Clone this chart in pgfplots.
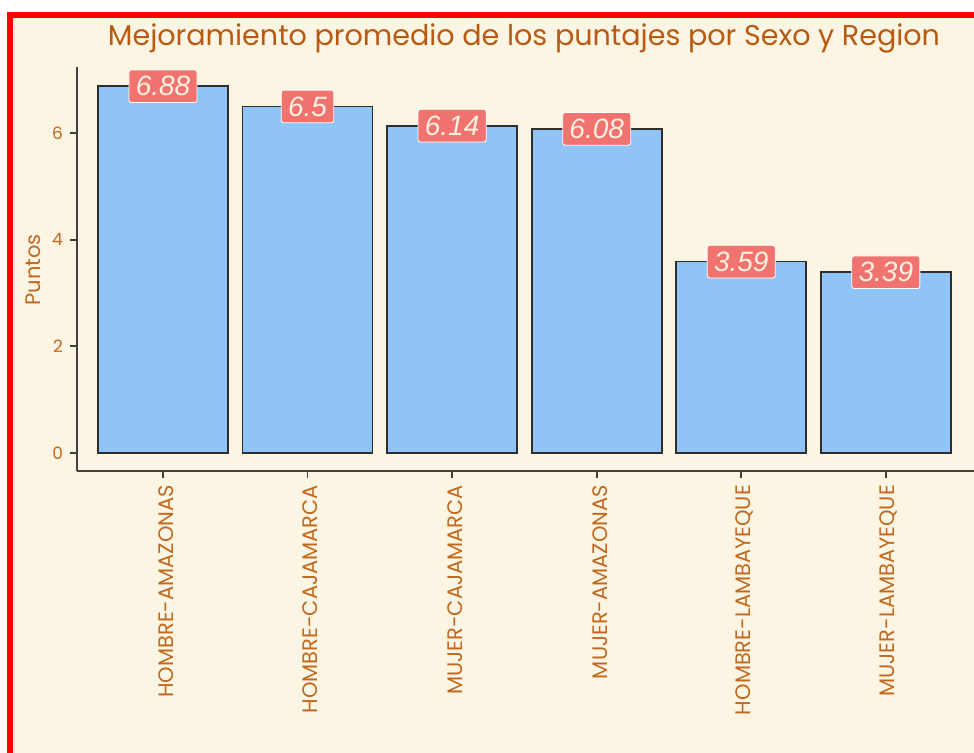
\documentclass[border=0pt]{standalone}
\usepackage{fontspec}
\setmainfont{Poppins}
\newfontfamily\numfont{Liberation Sans}
\usepackage{pgfplots}
\pgfplotsset{compat=1.18}

\definecolor{bgcream}{HTML}{FDF5E3}
\definecolor{borderred}{HTML}{FF0000}
\definecolor{barblue}{HTML}{90C4F6}
\definecolor{baredge}{HTML}{2E2E2E}
\definecolor{spine}{HTML}{404040}
\definecolor{labelbrown}{HTML}{C0681E}
\definecolor{titlebrown}{HTML}{B85A12}
\definecolor{boxsalmon}{HTML}{F07370}
\definecolor{boxtext}{HTML}{FFF1E0}

\begin{document}
\begin{tikzpicture}
\useasboundingbox (0,0) rectangle (487pt,376.5pt);
\fill[white] (0,0) rectangle (487pt,376.5pt);
\fill[borderred] (3.5pt,0) rectangle (487pt,370.5pt);
\fill[bgcream] (6.5pt,0) rectangle (487pt,367.5pt);

\begin{axis}[
  at={(38.5pt,141pt)}, anchor=south west,
  scale only axis, width=448.5pt, height=202pt,
  xmin=-0.595, xmax=5.61, ymin=-0.3375, ymax=7.24,
  ybar, bar width=65pt,
  axis x line*=bottom, axis y line*=left,
  axis line style={draw=spine, line width=1pt},
  tick align=outside, major tick length=3.5pt,
  every tick/.style={draw=spine, line width=0.9pt},
  xtick={0,...,5},
  xticklabels={HOMBRE-AMAZONAS,HOMBRE-CAJAMARCA,MUJER-CAJAMARCA,MUJER-AMAZONAS,HOMBRE-LAMBAYEQUE,MUJER-LAMBAYEQUE},
  xticklabel style={rotate=90, anchor=east, yshift=-1.5pt, font=\fontsize{10.5}{12}\selectfont, text=labelbrown},
  ytick={0,2,4,6},
  yticklabel style={font=\fontsize{8.5}{10}\selectfont, text=labelbrown},
  /pgf/number format/assume math mode=true,
  nodes near coords, point meta=explicit symbolic,
  every node near coord/.append style={anchor=center,
    font=\numfont\itshape\fontsize{14}{16}\selectfont,
    fill=boxsalmon, draw=white, line width=0.4pt, rounded corners=1.2pt,
    text=boxtext, inner xsep=3.4pt, inner ysep=3.2pt},
]
\addplot[fill=barblue, draw=baredge, line width=0.9pt] coordinates {
  (0,6.88) [6.88]
  (1,6.5)  [6.5]
  (2,6.14) [6.14]
  (3,6.08) [6.08]
  (4,3.59) [3.59]
  (5,3.39) [3.39]
};
\end{axis}

\node[text=titlebrown, font=\fontsize{14.3}{17}\selectfont] at (262pt,357.5pt)
  {Mejoramiento promedio de los puntajes por Sexo y Region};
\node[rotate=90, text=labelbrown, font=\fontsize{10.5}{12}\selectfont] at (16.5pt,241.5pt) {Puntos};
\end{tikzpicture}
\end{document}
